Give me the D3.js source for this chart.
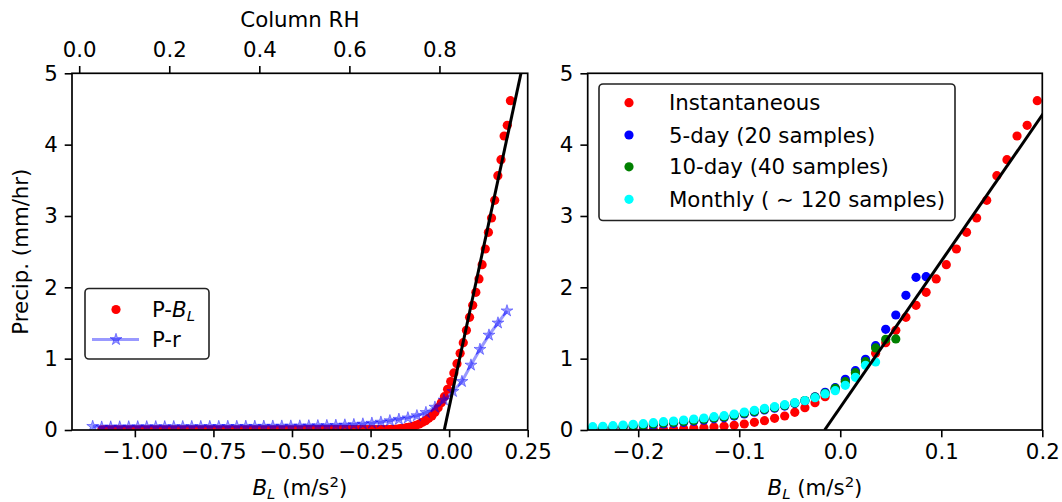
<!DOCTYPE html>
<html>
<head>
<meta charset="utf-8">
<script src="https://cdn.jsdelivr.net/npm/d3@7"></script>
<style>
 body { margin: 0; background: #fff; }
 text { font-family: "DejaVu Sans", sans-serif; fill: #000; }
</style>
</head>
<body>
<svg id="fig" width="1062" height="502"></svg>
<script>
// ---- data ----
// bin centres of B_L (m/s^2) for the instantaneous P-B_L curve
const blInst = [
 -1.105,-1.095,-1.085,-1.075,-1.065,-1.055,-1.045,-1.035,-1.025,-1.015,
 -1.005,-0.995,-0.985,-0.975,-0.965,-0.955,-0.945,-0.935,-0.925,-0.915,
 -0.905,-0.895,-0.885,-0.875,-0.865,-0.855,-0.845,-0.835,-0.825,-0.815,
 -0.805,-0.795,-0.785,-0.775,-0.765,-0.755,-0.745,-0.735,-0.725,-0.715,
 -0.705,-0.695,-0.685,-0.675,-0.665,-0.655,-0.645,-0.635,-0.625,-0.615,
 -0.605,-0.595,-0.585,-0.575,-0.565,-0.555,-0.545,-0.535,-0.525,-0.515,
 -0.505,-0.495,-0.485,-0.475,-0.465,-0.455,-0.445,-0.435,-0.425,-0.415,
 -0.405,-0.395,-0.385,-0.375,-0.365,-0.355,-0.345,-0.335,-0.325,-0.315,
 -0.305,-0.295,-0.285,-0.275,-0.265,
 -0.255,-0.245,-0.235,-0.225,-0.215,-0.205,-0.195,-0.185,-0.175,-0.165,
 -0.155,-0.145,-0.135,-0.125,-0.115,-0.105,-0.095,-0.085,-0.075,-0.065,
 -0.055,-0.045,-0.035,-0.025,-0.015,-0.005,0.005,0.015,0.025,0.035,
 0.045,0.055,0.065,0.075,0.085,0.095,0.105,0.115,0.125,0.135,
 0.145,0.155,0.165,0.175,0.185,0.195
];
const pInst = [
 0.003,0.003,0.003,0.003,0.003,0.003,0.003,0.003,0.003,0.003,
 0.003,0.003,0.003,0.003,0.003,0.003,0.003,0.003,0.003,0.003,
 0.003,0.003,0.003,0.003,0.003,0.003,0.003,0.003,0.003,0.003,
 0.003,0.003,0.003,0.003,0.003,0.003,0.003,0.003,0.003,0.003,
 0.003,0.003,0.003,0.003,0.003,0.003,0.003,0.003,0.003,0.003,
 0.003,0.003,0.003,0.003,0.003,0.003,0.003,0.003,0.003,0.003,
 0.003,0.003,0.003,0.003,0.003,0.004,0.004,0.004,0.004,0.004,
 0.004,0.004,0.004,0.004,0.004,0.004,0.004,0.004,0.004,0.004,
 0.004,0.004,0.004,0.004,0.004,
 0.004,0.004,0.005,0.005,0.006,0.006,0.007,0.008,0.010,0.014,
 0.019,0.023,0.033,0.042,0.051,0.065,0.084,0.107,0.131,0.164,
 0.196,0.248,0.313,0.383,0.467,0.570,0.680,0.800,0.930,1.075,
 1.224,1.397,1.579,1.748,1.930,2.117,2.318,2.537,2.771,2.972,
 3.219,3.565,3.789,4.121,4.271,4.616
];

// P against column relative humidity (top axis of the left panel)
const colRH = [
 0.03,0.05,0.07,0.09,0.11,0.13,0.15,0.17,0.19,0.21,
 0.23,0.25,0.27,0.29,0.31,0.33,0.35,0.37,0.39,0.41,
 0.43,0.45,0.47,0.49,0.51,0.53,0.55,0.57,0.59,0.61,
 0.63,0.65,0.67,0.69,0.71,0.73,0.75,0.77,0.79,0.81,
 0.83,0.85,0.87,0.89,0.91,0.93,0.95
];
const pRH = [
 0.050,0.040,0.042,0.043,0.044,0.045,0.045,0.046,0.046,0.047,
 0.047,0.048,0.048,0.049,0.049,0.050,0.050,0.051,0.051,0.052,
 0.053,0.054,0.055,0.056,0.058,0.060,0.062,0.065,0.070,0.076,
 0.084,0.095,0.110,0.130,0.150,0.170,0.200,0.245,0.320,0.420,
 0.540,0.680,0.910,1.130,1.330,1.500,1.670
];

// time-averaged curves (right panel), bin centres shared
const blAvg = [
 -0.245,-0.235,-0.225,-0.215,-0.205,-0.195,-0.185,-0.175,-0.165,-0.155,
 -0.145,-0.135,-0.125,-0.115,-0.105,-0.095,-0.085,-0.075,-0.065,-0.055,
 -0.045,-0.035,-0.025,-0.015,-0.005,0.005,0.015,0.025,0.035,0.045,
 0.055,0.065,0.075,0.085
];
const p5day = [
 0.025,0.028,0.033,0.040,0.048,0.057,0.070,0.084,0.094,0.108,
 0.122,0.137,0.156,0.171,0.195,0.224,0.250,0.280,0.305,0.336,
 0.370,0.410,0.465,0.528,0.593,0.710,0.832,0.991,1.182,1.411,
 1.612,1.888,2.140,2.149
];
const p10day = [
 0.032,0.036,0.042,0.050,0.059,0.069,0.083,0.097,0.106,0.120,
 0.134,0.149,0.168,0.183,0.206,0.235,0.260,0.290,0.315,0.345,
 0.378,0.413,0.460,0.514,0.584,0.677,0.803,0.958,1.150,1.271,
 1.276
];
const pMonthly = [
 0.047,0.051,0.060,0.070,0.079,0.089,0.103,0.117,0.126,0.140,
 0.154,0.168,0.187,0.201,0.224,0.252,0.276,0.304,0.327,0.355,
 0.383,0.411,0.453,0.505,0.551,0.626,0.738,0.906,0.953
];

// linear fit drawn in black
const fitBL = [-0.0155, 0.25];
const fitP = [0, 5.44];

const ticksBL = [-1.0, -0.75, -0.5, -0.25, 0.0, 0.25];
const ticksRH = [0.0, 0.2, 0.4, 0.6, 0.8];
const ticksP = [0, 1, 2, 3, 4, 5];
const ticksBLzoom = [-0.2, -0.1, 0.0, 0.1, 0.2];

const avgNames = ["Instantaneous", "5-day (20 samples)", "10-day (40 samples)", "Monthly ( \u223c 120 samples)"];
const avgColors = ["#ff0000", "#0000ff", "#008000", "#00ffff"];

// ---- layout ----
const fs = 21.3;
const tickLen = 7.3, tickPad = 7;
const L = {x0: 72, x1: 527.7, y0: 73.3, y1: 430};
const R = {x0: 587.7, x1: 1042.3, y0: 73.3, y1: 430};
const dotR = 4.6;

const svg = d3.select("#fig");

const xL = d3.scaleLinear().domain([-1.2, 0.25]).range([L.x0, L.x1]);
const xTop = d3.scaleLinear().domain([-0.016, 0.996]).range([L.x0, L.x1]);
const yL = d3.scaleLinear().domain([0, 5]).range([L.y1, L.y0]);
const xR = d3.scaleLinear().domain([-0.25, 0.2]).range([R.x0, R.x1]);
const yR = d3.scaleLinear().domain([0, 5]).range([R.y1, R.y0]);

const defs = svg.append("defs");
[["clipL", L], ["clipR", R]].forEach(([id, b]) => {
  defs.append("clipPath").attr("id", id).append("rect")
    .attr("x", b.x0).attr("y", b.y0).attr("width", b.x1 - b.x0).attr("height", b.y1 - b.y0);
});

function styleAxis(g) {
  g.select(".domain").remove();
  g.attr("font-size", fs).attr("font-family", "DejaVu Sans");
  g.selectAll(".tick line").attr("stroke", "#000").attr("stroke-width", 1.6);
}

// ---- left panel ----
const gL = svg.append("g");
const plotL = gL.append("g").attr("clip-path", "url(#clipL)");

plotL.append("g").selectAll("circle")
  .data(blInst.map((b, i) => [b, pInst[i]]))
  .enter().append("circle")
    .attr("cx", d => xL(d[0]))
    .attr("cy", d => yL(d[1]))
    .attr("r", dotR)
    .attr("fill", "#ff0000");

const rhPts = colRH.map((r, i) => [r, pRH[i]]);
plotL.append("path")
  .datum(rhPts)
  .attr("d", d3.line().x(d => xTop(d[0])).y(d => yL(d[1])))
  .attr("fill", "none")
  .attr("stroke", "#0000ff")
  .attr("stroke-opacity", 0.4)
  .attr("stroke-width", 3);

const star = d3.symbol().type(d3.symbolStar).size(44);
plotL.append("g").selectAll("path")
  .data(rhPts)
  .enter().append("path")
    .attr("d", star)
    .attr("transform", d => `translate(${xTop(d[0])},${yL(d[1])})`)
    .attr("fill", "#0000ff").attr("fill-opacity", 0.4)
    .attr("stroke", "#0000ff").attr("stroke-opacity", 0.4).attr("stroke-width", 1);

plotL.append("path")
  .datum(fitBL.map((b, i) => [b, fitP[i]]))
  .attr("d", d3.line().x(d => xL(d[0])).y(d => yL(d[1])))
  .attr("stroke", "#000").attr("stroke-width", 3).attr("fill", "none");

gL.append("g").attr("transform", `translate(0,${L.y1})`)
  .call(d3.axisBottom(xL).tickValues(ticksBL).tickFormat(d3.format(".2f"))
    .tickSize(tickLen).tickPadding(tickPad).tickSizeOuter(0))
  .call(styleAxis);
gL.append("g").attr("transform", `translate(0,${L.y0})`)
  .call(d3.axisTop(xTop).tickValues(ticksRH).tickFormat(d3.format(".1f"))
    .tickSize(tickLen).tickPadding(tickPad + 2).tickSizeOuter(0))
  .call(styleAxis);
gL.append("g").attr("transform", `translate(${L.x0},0)`)
  .call(d3.axisLeft(yL).tickValues(ticksP).tickFormat(d3.format("d"))
    .tickSize(tickLen).tickPadding(tickPad).tickSizeOuter(0))
  .call(styleAxis);

gL.append("rect")
  .attr("x", L.x0).attr("y", L.y0).attr("width", L.x1 - L.x0).attr("height", L.y1 - L.y0)
  .attr("fill", "none").attr("stroke", "#000").attr("stroke-width", 1.7);

// left legend
const legL = gL.append("g");
legL.append("rect").attr("x", 85).attr("y", 288.5).attr("width", 124).attr("height", 70.5)
  .attr("rx", 4).attr("fill", "#fff").attr("fill-opacity", 0.8)
  .attr("stroke", "#222").attr("stroke-width", 1.6);
legL.append("circle").attr("cx", 116).attr("cy", 309.5).attr("r", dotR).attr("fill", "#ff0000");
const t1 = legL.append("text").attr("x", 152).attr("y", 316.5).attr("font-size", fs);
t1.append("tspan").text("P-");
t1.append("tspan").attr("font-style", "italic").text("B");
t1.append("tspan").attr("font-style", "italic").attr("font-size", fs * 0.7).attr("dy", 4).text("L");
legL.append("line").attr("x1", 92).attr("x2", 139).attr("y1", 339.5).attr("y2", 339.5)
  .attr("stroke", "#0000ff").attr("stroke-opacity", 0.4).attr("stroke-width", 3);
legL.append("path").attr("d", star).attr("transform", "translate(116,339.5)")
  .attr("fill", "#0000ff").attr("fill-opacity", 0.4)
  .attr("stroke", "#0000ff").attr("stroke-opacity", 0.4);
legL.append("text").attr("x", 152).attr("y", 347).attr("font-size", fs).text("P-r");

// ---- right panel ----
const gR = svg.append("g");
const plotR = gR.append("g").attr("clip-path", "url(#clipR)");
const rightSeries = [
  blInst.map((b, i) => [b, pInst[i]]),
  p5day.map((p, i) => [blAvg[i], p]),
  p10day.map((p, i) => [blAvg[i], p]),
  pMonthly.map((p, i) => [blAvg[i], p])
];
rightSeries.forEach((pts, k) => {
  plotR.append("g").selectAll("circle")
    .data(pts)
    .enter().append("circle")
      .attr("cx", d => xR(d[0]))
      .attr("cy", d => yR(d[1]))
      .attr("r", dotR)
      .attr("fill", avgColors[k]);
});
plotR.append("path")
  .datum(fitBL.map((b, i) => [b, fitP[i]]))
  .attr("d", d3.line().x(d => xR(d[0])).y(d => yR(d[1])))
  .attr("stroke", "#000").attr("stroke-width", 3).attr("fill", "none");

gR.append("g").attr("transform", `translate(0,${R.y1})`)
  .call(d3.axisBottom(xR).tickValues(ticksBLzoom).tickFormat(d3.format(".1f"))
    .tickSize(tickLen).tickPadding(tickPad).tickSizeOuter(0))
  .call(styleAxis);
gR.append("g").attr("transform", `translate(${R.x0},0)`)
  .call(d3.axisLeft(yR).tickValues(ticksP).tickFormat(d3.format("d"))
    .tickSize(tickLen).tickPadding(tickPad).tickSizeOuter(0))
  .call(styleAxis);
gR.append("rect")
  .attr("x", R.x0).attr("y", R.y0).attr("width", R.x1 - R.x0).attr("height", R.y1 - R.y0)
  .attr("fill", "none").attr("stroke", "#000").attr("stroke-width", 1.7);

// right legend
const legR = gR.append("g");
legR.append("rect").attr("x", 599).attr("y", 84).attr("width", 356).attr("height", 136.5)
  .attr("rx", 4).attr("fill", "#fff").attr("fill-opacity", 0.8)
  .attr("stroke", "#222").attr("stroke-width", 1.6);
const legRows = [102.7, 135, 166.8, 199.3];
avgNames.forEach((name, k) => {
  legR.append("circle").attr("cx", 629).attr("cy", legRows[k]).attr("r", dotR).attr("fill", avgColors[k]);
  legR.append("text").attr("x", 669).attr("y", legRows[k] + 7.6).attr("font-size", fs).text(name);
});

// ---- axis titles ----
function blLabel(cx) {
  const t = svg.append("text").attr("x", cx).attr("y", 495).attr("text-anchor", "middle").attr("font-size", fs);
  t.append("tspan").attr("font-style", "italic").text("B");
  t.append("tspan").attr("font-style", "italic").attr("font-size", fs * 0.7).attr("dy", 4).text("L");
  t.append("tspan").attr("dy", -4).text(" (m/s");
  t.append("tspan").attr("font-size", fs * 0.7).attr("dy", -8).text("2");
  t.append("tspan").attr("dy", 8).text(")");
}
blLabel((L.x0 + L.x1) / 2);
blLabel((R.x0 + R.x1) / 2);

svg.append("text").attr("x", (L.x0 + L.x1) / 2).attr("y", 27).attr("text-anchor", "middle")
  .attr("font-size", fs).text("Column RH");

svg.append("text")
  .attr("transform", `translate(28,${(L.y0 + L.y1) / 2}) rotate(-90)`)
  .attr("text-anchor", "middle").attr("font-size", fs).text("Precip. (mm/hr)");
</script>
</body>
</html>
